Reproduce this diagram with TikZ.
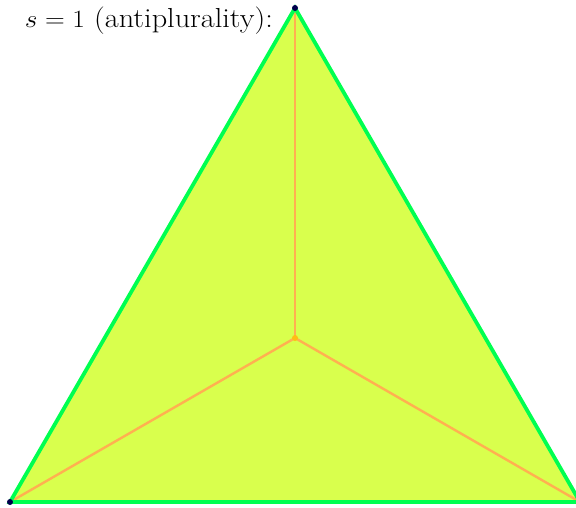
\documentclass[tikz,border=0pt]{standalone}
\usepackage{graphicx}
\definecolor{edgegreen}{RGB}{0,255,80}
\definecolor{spokeorange}{RGB}{255,176,80}
\definecolor{fillyellow}{RGB}{217,255,77}
\definecolor{centredot}{RGB}{255,190,20}
\begin{document}
\begin{tikzpicture}[x=1pt,y=-1pt,
  edge/.style={draw=edgegreen, line width=3.8pt, line join=miter},
  spoke/.style={draw=spokeorange, line width=2.4pt},
  vdot/.style={circle, fill=blue!30!black, inner sep=0pt, minimum size=6pt}]
\useasboundingbox (0,0) rectangle (576,508);
\coordinate (A) at (295,8);
\coordinate (B) at (10,502);
\coordinate (C) at (580,502);
\coordinate (O) at (295,338);
\fill[fillyellow] (A) -- (B) -- (C) -- cycle;
\draw[spoke] (O) -- (A);
\draw[spoke] (O) -- (B);
\draw[spoke] (O) -- (C);
\fill[centredot] (O) circle (3pt);
\draw[edge] (A) -- (B) -- (C) -- cycle;
\node[vdot] (va) at (A) {};
\node[vdot] (vb) at (B) {};
\node[anchor=base east, font=\fontsize{27.5}{32}\selectfont, inner sep=0pt] (lab) at (273,28) {\scalebox{1.1}[1]{$s=1$ (antiplurality):}};
\end{tikzpicture}
\end{document}
